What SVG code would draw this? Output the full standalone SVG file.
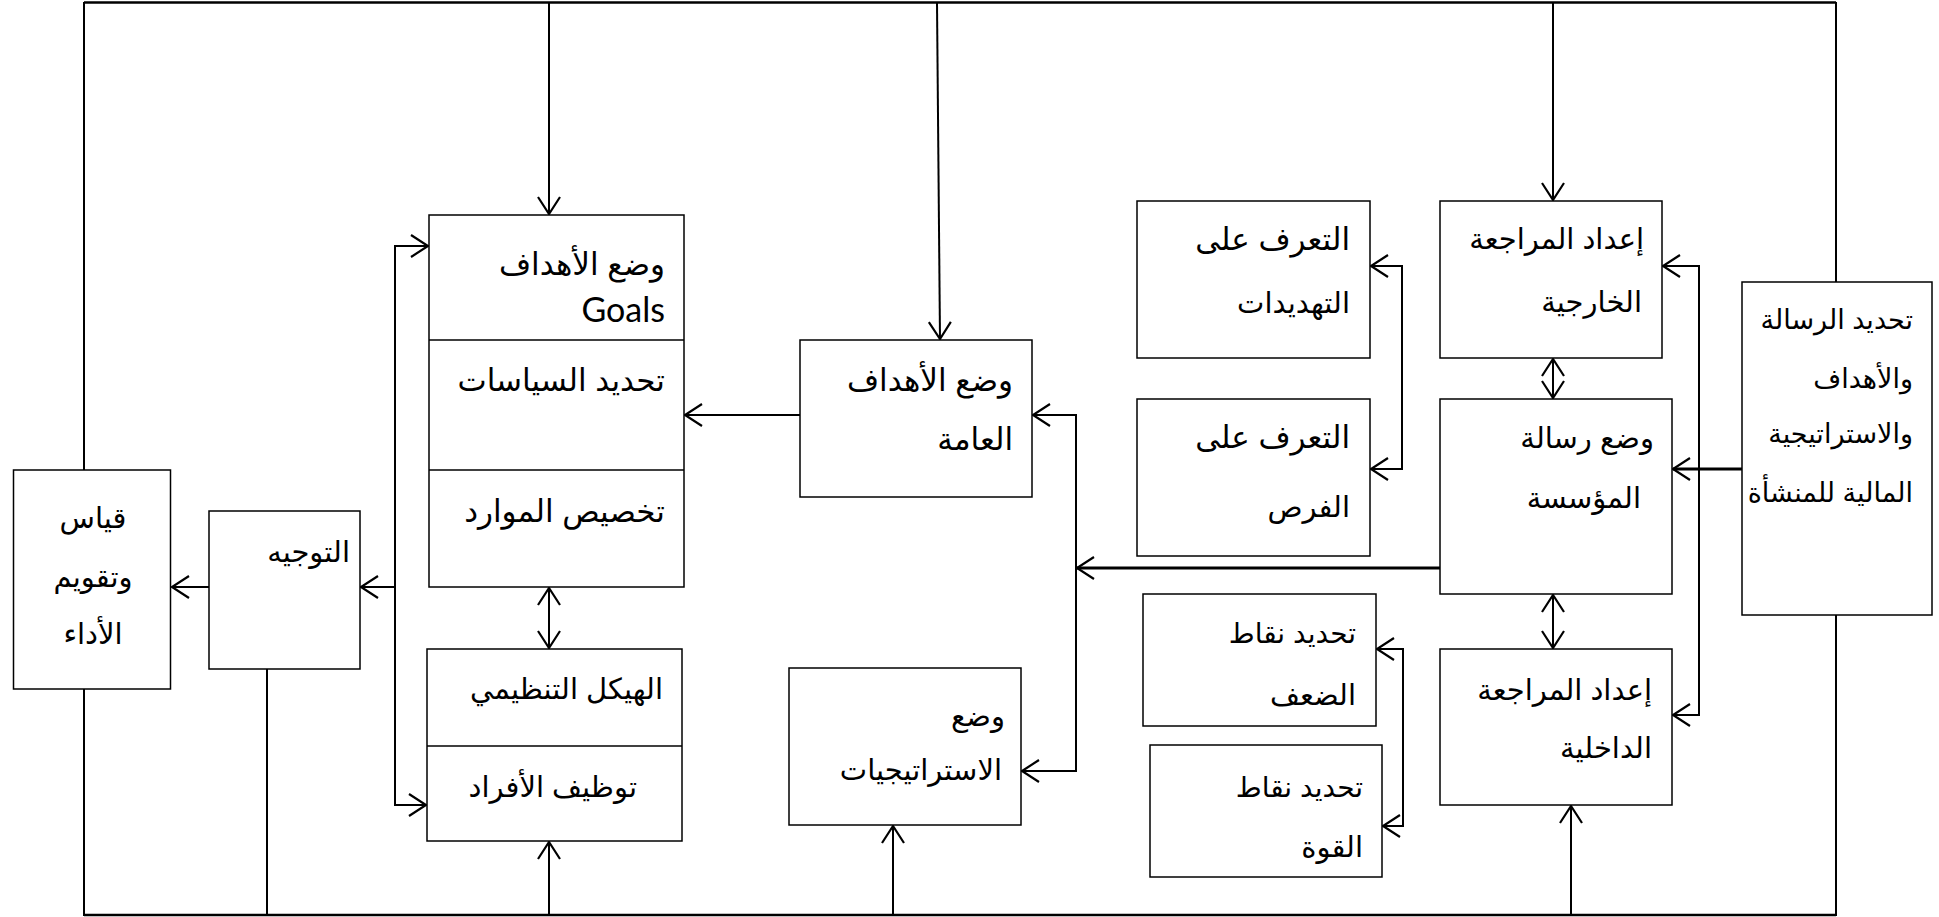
<svg xmlns="http://www.w3.org/2000/svg" width="1939" height="917" viewBox="0 0 1939 917">
  <defs>
    <style>
      .box { fill: #ffffff; stroke: #000000; stroke-width: 1.5; }
      .div { stroke: #000000; stroke-width: 1.5; fill: none; }
      .wire { stroke: #000000; stroke-width: 2; fill: none; }
      .frame { stroke: #000000; stroke-width: 2.5; fill: none; }
      .thick { stroke: #000000; stroke-width: 3; fill: none; }
      .ar { font-family: "Liberation Sans", "DejaVu Sans", sans-serif; font-size: 29px; fill: #000000; text-anchor: end; }
      .big { font-size: 31px; }
      .sm { font-size: 27px; }
      .ctr { text-anchor: middle; }
      .lat { font-family: Lato, "Open Sans", "Liberation Sans", sans-serif; font-size: 34px; fill: #000000; text-anchor: end; }
      .a { marker-end: url(#head); }
      .aa { marker-start: url(#head); marker-end: url(#head); }
    </style>
    <marker id="head" markerUnits="userSpaceOnUse" viewBox="-20 -13 24 26" refX="0" refY="0" markerWidth="24" markerHeight="26" orient="auto-start-reverse">
      <path d="M -17 -11 L 0 0 L -17 11" fill="none" stroke="#000000" stroke-width="2.2" stroke-linejoin="miter"/>
    </marker>
  </defs>

  <!-- connectors -->
  <g id="connectors">
    <!-- outer feedback loop -->
    <path class="frame" d="M84 2.5 H1836"/>
    <path class="frame" d="M84 915 H1836"/>
    <path class="wire" d="M84 2 V470"/>
    <path class="wire" d="M84 689 V916"/>
    <path class="wire" d="M1836 2 V282"/>
    <path class="wire" d="M1836 615 V916"/>
    <path class="wire" d="M267 669 V916"/>

    <!-- downward feeds from the top line -->
    <path class="wire a" d="M549 3 V214"/>
    <path class="wire a" d="M937 3 L940 339"/>
    <path class="wire a" d="M1553 3 V200"/>

    <!-- upward feeds from the bottom line -->
    <path class="wire a" d="M549 914 V842"/>
    <path class="wire a" d="M893 914 V826"/>
    <path class="wire a" d="M1571 914 V806"/>

    <!-- mission definition to mission / audits -->
    <path class="thick a" d="M1742 469 H1673"/>
    <path class="wire aa" d="M1663 266 H1699 V715 H1673"/>
    <path class="wire aa" d="M1553 359 V398"/>
    <path class="wire aa" d="M1553 595 V648"/>

    <!-- SWOT brackets -->
    <path class="wire aa" d="M1371 266 H1402 V469 H1371"/>
    <path class="wire aa" d="M1377 649 H1403 V826 H1383"/>

    <!-- mission to goals / strategies -->
    <path class="thick a" d="M1440 568 H1077"/>
    <path class="wire aa" d="M1033 415 H1076 V771 H1022"/>
    <path class="wire a" d="M800 415 H685"/>

    <!-- implementation side -->
    <path class="wire aa" d="M428 246 H395 V805 H426"/>
    <path class="wire a" d="M395 587 H361"/>
    <path class="wire a" d="M209 587 H172"/>
    <path class="wire aa" d="M549 588 V648"/>
  </g>

  <!-- performance measurement -->
  <g id="node-measure">
    <rect class="box" x="13.5" y="470" width="157" height="219"/>
    <text class="ar ctr" x="93" y="528">قياس</text>
    <text class="ar ctr" x="93" y="587">وتقويم</text>
    <text class="ar ctr" x="93" y="644">الأداء</text>
  </g>

  <!-- direction -->
  <g id="node-direction">
    <rect class="box" x="209" y="511" width="151" height="158"/>
    <text class="ar" x="350" y="562">التوجيه</text>
  </g>

  <!-- goals / policies / resources -->
  <g id="node-goals">
    <rect class="box" x="429" y="215" width="255" height="372"/>
    <line class="div" x1="429" y1="340" x2="684" y2="340"/>
    <line class="div" x1="429" y1="470" x2="684" y2="470"/>
    <text class="ar big" x="665" y="275">وضع الأهداف</text>
    <text class="lat" x="665" y="322">Goals</text>
    <text class="ar big" x="665" y="391">تحديد السياسات</text>
    <text class="ar big" x="665" y="522">تخصيص الموارد</text>
  </g>

  <!-- structure / staffing -->
  <g id="node-structure">
    <rect class="box" x="427" y="649" width="255" height="192"/>
    <line class="div" x1="427" y1="746" x2="682" y2="746"/>
    <text class="ar" x="663" y="699">الهيكل التنظيمي</text>
    <text class="ar" x="637" y="797">توظيف الأفراد</text>
  </g>

  <!-- general objectives -->
  <g id="node-objectives">
    <rect class="box" x="800" y="340" width="232" height="157"/>
    <text class="ar big" x="1013" y="391">وضع الأهداف</text>
    <text class="ar big" x="1013" y="450">العامة</text>
  </g>

  <!-- strategies -->
  <g id="node-strategies">
    <rect class="box" x="789" y="668" width="232" height="157"/>
    <text class="ar" x="1005" y="726">وضع</text>
    <text class="ar" x="1002" y="780">الاستراتيجيات</text>
  </g>

  <!-- threats -->
  <g id="node-threats">
    <rect class="box" x="1137" y="201" width="233" height="157"/>
    <text class="ar big" x="1350" y="250">التعرف على</text>
    <text class="ar" x="1350" y="313">التهديدات</text>
  </g>

  <!-- opportunities -->
  <g id="node-opportunities">
    <rect class="box" x="1137" y="399" width="233" height="157"/>
    <text class="ar big" x="1350" y="448">التعرف على</text>
    <text class="ar" x="1350" y="517">الفرص</text>
  </g>

  <!-- weaknesses -->
  <g id="node-weaknesses">
    <rect class="box" x="1143" y="594" width="233" height="132"/>
    <text class="ar" x="1356" y="643" style="font-size:28px">تحديد نقاط</text>
    <text class="ar" x="1356" y="705">الضعف</text>
  </g>

  <!-- strengths -->
  <g id="node-strengths">
    <rect class="box" x="1150" y="745" width="232" height="132"/>
    <text class="ar" x="1363" y="797" style="font-size:28px">تحديد نقاط</text>
    <text class="ar" x="1363" y="857">القوة</text>
  </g>

  <!-- external audit -->
  <g id="node-external">
    <rect class="box" x="1440" y="201" width="222" height="157"/>
    <text class="ar" x="1644" y="249">إعداد المراجعة</text>
    <text class="ar" x="1642" y="312">الخارجية</text>
  </g>

  <!-- mission statement -->
  <g id="node-mission">
    <rect class="box" x="1440" y="399" width="232" height="195"/>
    <text class="ar" x="1654" y="448">وضع رسالة</text>
    <text class="ar" x="1641" y="508">المؤسسة</text>
  </g>

  <!-- internal audit -->
  <g id="node-internal">
    <rect class="box" x="1440" y="649" width="232" height="156"/>
    <text class="ar" x="1652" y="700">إعداد المراجعة</text>
    <text class="ar" x="1652" y="758">الداخلية</text>
  </g>

  <!-- mission, goals and financial strategy -->
  <g id="node-definition">
    <rect class="box" x="1742" y="282" width="190" height="333"/>
    <text class="ar sm" x="1913" y="329">تحديد الرسالة</text>
    <text class="ar sm" x="1913" y="388">والأهداف</text>
    <text class="ar sm" x="1913" y="443">والاستراتيجية</text>
    <text class="ar sm" x="1913" y="502">المالية للمنشأة</text>
  </g>
</svg>
